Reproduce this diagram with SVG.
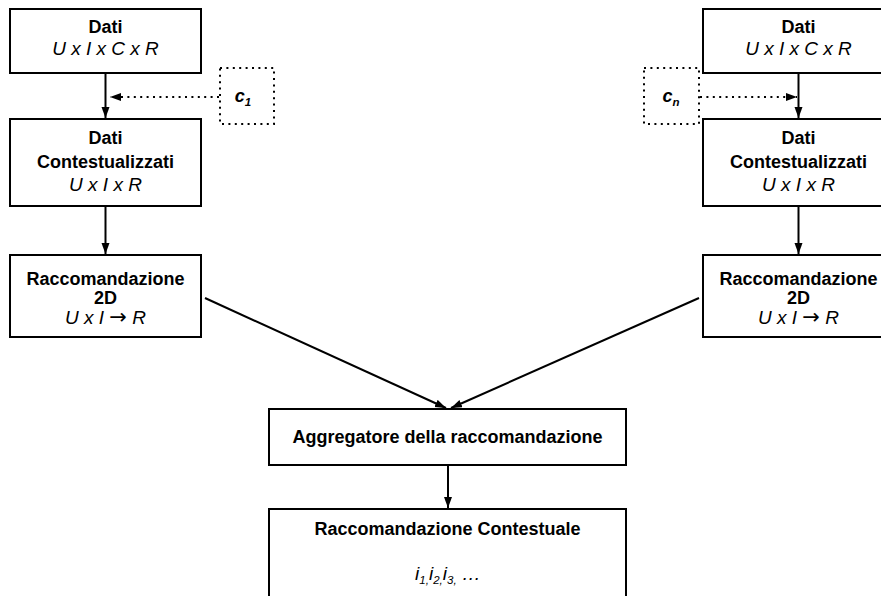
<svg xmlns="http://www.w3.org/2000/svg" width="881" height="596" viewBox="0 0 881 596">
  <style>
    .box { fill: #ffffff; stroke: #000000; stroke-width: 2; }
    .ctx { fill: none; stroke: #000000; stroke-width: 2; stroke-dasharray: 2 4.4; }
    .edge { fill: none; stroke: #000000; stroke-width: 2; }
    .dot { fill: none; stroke: #000000; stroke-width: 2; stroke-dasharray: 2 4.4; }
    text { font-family: "Liberation Sans", Arial, Helvetica, sans-serif; font-size: 18px; fill: #000000; text-anchor: middle; }
    .b { font-weight: bold; }
    .i { font-style: italic; font-size: 19px; }
    .sub { font-size: 11.5px; }
    .arr { font-family: "DejaVu Sans", sans-serif; font-style: normal; font-size: 21px; }
  </style>
  <defs>
    <marker id="arrow" markerUnits="userSpaceOnUse" markerWidth="12" markerHeight="9" refX="11" refY="4" orient="auto">
      <path d="M0,0 L11,4 L0,8 Z" fill="#000000"/>
    </marker>
  </defs>

  <!-- connectors -->
  <g id="connectors">
    <line class="edge" x1="105.5" y1="73" x2="105.5" y2="118" marker-end="url(#arrow)"/>
    <line class="edge" x1="105.5" y1="206" x2="105.5" y2="254" marker-end="url(#arrow)"/>
    <line class="dot" x1="219" y1="97" x2="110" y2="97" marker-end="url(#arrow)"/>
    <line class="edge" x1="798.5" y1="73" x2="798.5" y2="118" marker-end="url(#arrow)"/>
    <line class="edge" x1="798.5" y1="206" x2="798.5" y2="254" marker-end="url(#arrow)"/>
    <line class="dot" x1="700" y1="97" x2="797" y2="97" marker-end="url(#arrow)"/>
    <line class="edge" x1="205" y1="298" x2="446" y2="408" marker-end="url(#arrow)"/>
    <line class="edge" x1="699" y1="298" x2="451" y2="408" marker-end="url(#arrow)"/>
    <line class="edge" x1="448" y1="465" x2="448" y2="508" marker-end="url(#arrow)"/>
  </g>

  <!-- left chain -->
  <g id="dati-left">
    <rect class="box" x="10" y="9" width="191" height="64"/>
    <text class="b" x="105.5" y="33">Dati</text>
    <text class="i" x="105.5" y="55">U x I x C x R</text>
  </g>
  <g id="context-c1">
    <rect class="ctx" x="220" y="68" width="54" height="56"/>
    <text class="b i" x="243" y="102" style="font-size:18px">c<tspan class="sub" dy="4">1</tspan></text>
  </g>
  <g id="contestualizzati-left">
    <rect class="box" x="10" y="119" width="191" height="87"/>
    <text class="b" x="105.5" y="144">Dati</text>
    <text class="b" x="105.5" y="167.5">Contestualizzati</text>
    <text class="i" x="105.5" y="191">U x I x R</text>
  </g>
  <g id="raccomandazione-left">
    <rect class="box" x="10" y="255" width="191" height="82"/>
    <text class="b" x="105.5" y="285">Raccomandazione</text>
    <text class="b" x="105.5" y="303.5">2D</text>
    <text class="i" x="105.5" y="323.5">U x I <tspan class="arr">→</tspan> R</text>
  </g>

  <!-- right chain -->
  <g id="dati-right">
    <rect class="box" x="703" y="9" width="191" height="64"/>
    <text class="b" x="798.5" y="33">Dati</text>
    <text class="i" x="798.5" y="55">U x I x C x R</text>
  </g>
  <g id="context-cn">
    <rect class="ctx" x="644" y="68" width="55" height="56"/>
    <text class="b i" x="671" y="102" style="font-size:18px">c<tspan class="sub" dy="4">n</tspan></text>
  </g>
  <g id="contestualizzati-right">
    <rect class="box" x="703" y="119" width="191" height="87"/>
    <text class="b" x="798.5" y="144">Dati</text>
    <text class="b" x="798.5" y="167.5">Contestualizzati</text>
    <text class="i" x="798.5" y="191">U x I x R</text>
  </g>
  <g id="raccomandazione-right">
    <rect class="box" x="703" y="255" width="191" height="82"/>
    <text class="b" x="798.5" y="285">Raccomandazione</text>
    <text class="b" x="798.5" y="303.5">2D</text>
    <text class="i" x="798.5" y="323.5">U x I <tspan class="arr">→</tspan> R</text>
  </g>

  <!-- aggregation -->
  <g id="aggregatore">
    <rect class="box" x="269" y="409" width="357" height="56"/>
    <text class="b" x="447.5" y="443">Aggregatore della raccomandazione</text>
  </g>
  <g id="raccomandazione-contestuale">
    <rect class="box" x="269" y="509" width="357" height="100"/>
    <text class="b" x="447.5" y="535">Raccomandazione Contestuale</text>
    <text class="i" x="448" y="580">i<tspan class="sub" dy="4">1,</tspan><tspan dy="-4">i</tspan><tspan class="sub" dy="4">2,</tspan><tspan dy="-4">i</tspan><tspan class="sub" dy="4">3,</tspan><tspan dy="-4"> …</tspan></text>
  </g>
</svg>
